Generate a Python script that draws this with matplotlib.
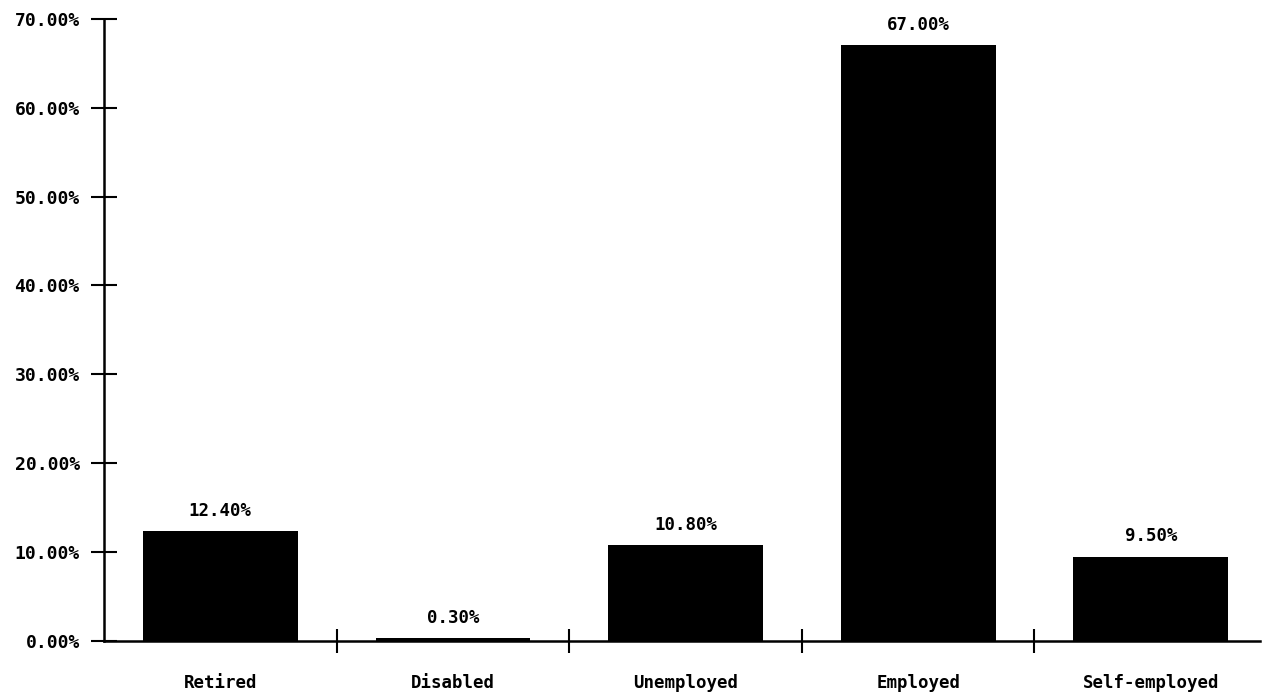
import matplotlib.pyplot as plt
from matplotlib.ticker import FuncFormatter, FixedLocator

# Employment status shares
categories = ["Retired", "Disabled", "Unemployed", "Employed", "Self-employed"]
shares = [12.40, 0.30, 10.80, 67.00, 9.50]

plt.rcParams["font.family"] = "DejaVu Sans Mono"
plt.rcParams["font.weight"] = "bold"

fig = plt.figure(figsize=(12.69, 6.96), dpi=100)
ax = fig.add_axes([0.082, 0.079, 0.911, 0.894])

x = range(len(categories))
bars = ax.bar(x, shares, width=0.665, color="black")

# value labels above each bar
for xi, v in zip(x, shares):
    ax.annotate(f"{v:.2f}%", (xi, v), xytext=(0, 8), textcoords="offset points",
                ha="center", va="bottom", fontsize=12.5)

ax.set_ylim(0, 70)
ax.set_xlim(-0.5, 4.47)
ax.set_yticks(range(0, 71, 10))
ax.yaxis.set_major_formatter(FuncFormatter(lambda v, p: f"{v:.2f}%"))

# category names sit under the bars, tick marks fall between them
ax.xaxis.set_major_locator(FixedLocator([0.5, 1.5, 2.5, 3.5]))
ax.xaxis.set_major_formatter(FuncFormatter(lambda v, p: ""))
ax.xaxis.set_minor_locator(FixedLocator(list(x)))
ax.set_xticklabels(categories, minor=True)
ax.tick_params(axis="x", which="minor", length=0, pad=24, labelsize=12.5)
ax.tick_params(axis="x", which="major", direction="inout", length=17, width=1.5)
ax.tick_params(axis="y", direction="inout", length=19, width=1.5, pad=8, labelsize=13)

for side in ["top", "right"]:
    ax.spines[side].set_visible(False)
ax.spines["left"].set_linewidth(1.8)
ax.spines["bottom"].set_linewidth(1.8)

plt.savefig("out.png")
